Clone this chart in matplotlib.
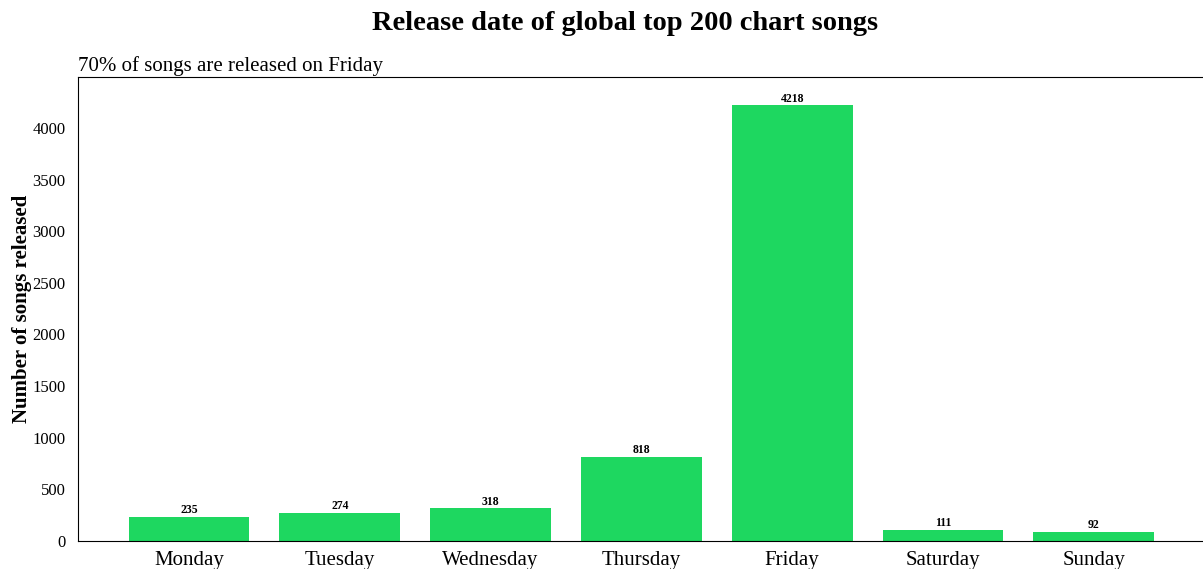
import matplotlib.pyplot as plt

plt.rcParams['font.family'] = ['Liberation Serif', 'DejaVu Serif']

days = ['Monday', 'Tuesday', 'Wednesday', 'Thursday', 'Friday', 'Saturday', 'Sunday']
counts = [235, 274, 318, 818, 4218, 111, 92]

fig = plt.figure(figsize=(12.03, 5.69), dpi=100)
ax = fig.add_axes([0.0648, 0.0492, 0.9367, 0.8155])

bars = ax.bar(days, counts, width=0.8, color='#1ED760')
for b, v in zip(bars, counts):
    ax.text(b.get_x() + b.get_width() / 2, v + 5, str(v), ha='center', va='bottom',
            fontsize=8.5, fontweight='bold')

ax.set_xlim(-0.736, 6.736)
ax.set_ylim(0, 4494)
ax.spines['right'].set_visible(False)
ax.tick_params(length=0)
ax.tick_params(axis='x', labelsize=15, pad=7)
ax.tick_params(axis='y', labelsize=12, pad=9)
ax.set_ylabel('Number of songs released', fontsize=15, fontweight='bold', labelpad=0)

fig.text(0.52, 0.958, 'Release date of global top 200 chart songs', ha='center', va='center',
         fontsize=20.5, fontweight='bold')
ax.set_title('70% of songs are released on Friday', loc='left', fontsize=15, pad=4.5)

fig.savefig('out.png', dpi=100)
